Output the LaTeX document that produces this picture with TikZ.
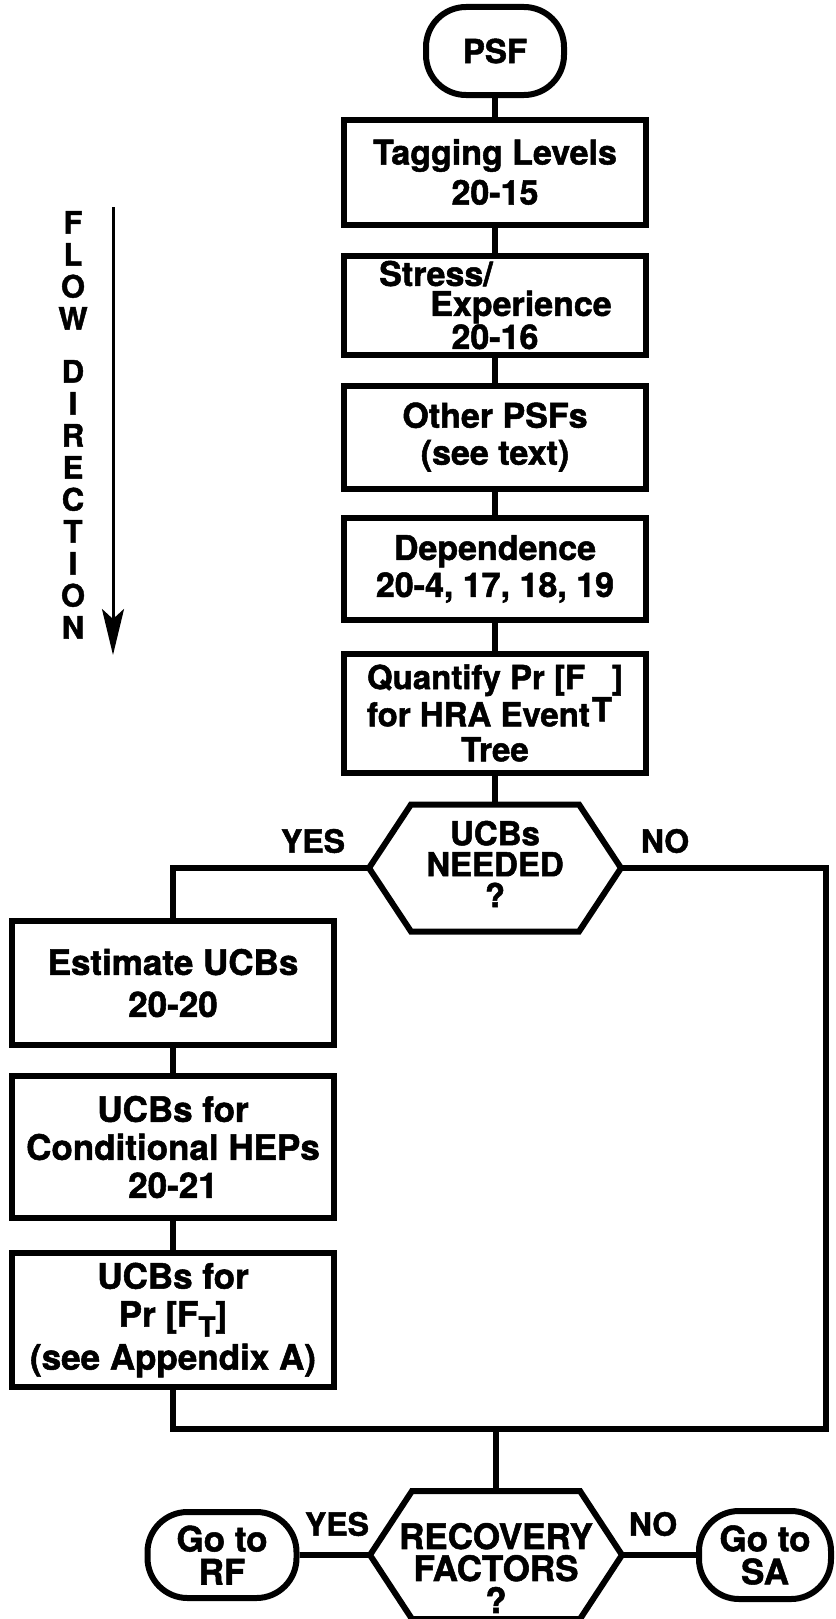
\documentclass[tikz,border=0pt]{standalone}
\usepackage{fontspec}
\setmainfont[BoldFeatures={FakeBold=1.5}]{TeX Gyre Heros}
\usetikzlibrary{arrows.meta}
\newlength\qwidth

\begin{document}
\begin{tikzpicture}[x=1pt,y=-1pt,line width=6pt,
  boxtxt/.style={font=\bfseries\fontsize{34}{37}\selectfont},
  procbox/.style={boxtxt,draw,align=center,inner sep=0pt,minimum width=302pt},
  sidebox/.style={procbox,minimum width=322pt,font=\bfseries\fontsize{35}{38}\selectfont},
  termbox/.style={boxtxt,draw,align=center,inner sep=0pt,rounded corners=40pt},
  hexbox/.style={inner sep=0pt,minimum width=246pt,minimum height=121pt},
  hextxt/.style={font=\bfseries\fontsize{33}{31}\selectfont,align=center,inner sep=0pt},
  answer/.style={font=\bfseries\fontsize{32}{34}\selectfont,inner sep=0pt}]
\useasboundingbox (0,0) rectangle (835,1619);

% flow direction
\node[anchor=north,inner sep=0pt,align=center,font=\bfseries\fontsize{31}{32}\selectfont] (flow) at (73,208) {F\\L\\O\\W\\[21pt]D\\I\\R\\E\\C\\T\\I\\O\\N};
\coordinate (flowtop) at (113,207);
\coordinate (flowend) at (113,655);
\draw[line width=3pt,-{Stealth[length=46pt,width=22pt,inset=10pt]}] (flowtop) -- (flowend);

% main column
\node[termbox,minimum width=138pt,minimum height=88pt,font=\bfseries\fontsize{33}{36}\selectfont] (psf) at (495,51) {PSF};
\node[procbox,minimum height=105pt] (tag) at (495,172) {Tagging Levels\\[3pt]20-15};
\node[procbox,minimum height=99pt,font=\bfseries\fontsize{34}{30}\selectfont] (stress) at (495,305) {Stress/\hspace*{118pt}\\\hspace*{52pt}Experience\\20-16};
\node[procbox,minimum height=103pt] (other) at (495,437) {Other PSFs\\(see text)};
\node[procbox,minimum height=102pt] (dep) at (495,569) {Dependence\\20-4, 17, 18, 19};
\node[procbox,minimum height=119pt,font=\bfseries\fontsize{33}{35}\selectfont] (quant) at (495,713) {\settowidth{\qwidth}{for HRA Event\kern2pt T}\makebox[\qwidth][l]{Quantify Pr [F}]\\for HRA Event\kern2pt\raisebox{5pt}{T}\hphantom{]}\\Tree};

% UCBs decision
\node[hexbox] (ucb) at (495,868) {};
\draw ([xshift=42pt]ucb.north west) -- ([xshift=-42pt]ucb.north east) -- (ucb.east) -- ([xshift=-42pt]ucb.south east) -- ([xshift=42pt]ucb.south west) -- (ucb.west) -- cycle;
\node[hextxt] (ucbtxt) at (495,864) {UCBs\\NEEDED\\?};
\node[answer] (yes1) at (313,841) {YES};
\node[answer] (no1) at (665,841) {NO};

% left branch
\node[sidebox,minimum height=124pt] (est) at (173,983) {Estimate UCBs\\[4pt]20-20};
\node[sidebox,minimum height=142pt] (cond) at (173,1147) {UCBs for\\Conditional HEPs\\20-21};
\node[sidebox,minimum height=134pt] (ucbpr) at (173,1320) {UCBs for\\Pr [F\raisebox{-10pt}{\fontsize{28}{30}\selectfont T}]\\[5pt](see Appendix A)};

% recovery decision
\node[hexbox,minimum height=122pt] (rec) at (496,1555) {};
\draw ([xshift=42pt]rec.north west) -- ([xshift=-42pt]rec.north east) -- (rec.east) -- ([xshift=-42pt]rec.south east) -- ([xshift=42pt]rec.south west) -- (rec.west) -- cycle;
\node[hextxt,font=\bfseries\fontsize{35}{32}\selectfont] (rectxt) at (496,1568) {RECOVERY\\FACTORS\\?};
\node[termbox,minimum width=149pt,minimum height=86pt,font=\bfseries\fontsize{35}{33}\selectfont] (rf) at (222,1555) {Go to\\RF};
\node[termbox,minimum width=132pt,minimum height=88pt,font=\bfseries\fontsize{35}{33}\selectfont] (sa) at (765,1555) {Go to\\SA};
\node[answer] (yes2) at (337,1524) {YES};
\node[answer] (no2) at (653,1524) {NO};

% connectors
\coordinate (nr) at (826,1429);
\draw (psf) -- (tag);
\draw (tag) -- (stress);
\draw (stress) -- (other);
\draw (other) -- (dep);
\draw (dep) -- (quant);
\draw (quant) -- (ucb);
\draw (ucb.west) -| (est.north);
\draw (est) -- (cond);
\draw (cond) -- (ucbpr);
\draw (ucb.east) -| (nr) -| (ucbpr.south);
\draw (rec.north) -- (rec.north |- nr);
\draw (rf) -- (rec.west);
\draw (rec.east) -- (sa);
\end{tikzpicture}
\end{document}
